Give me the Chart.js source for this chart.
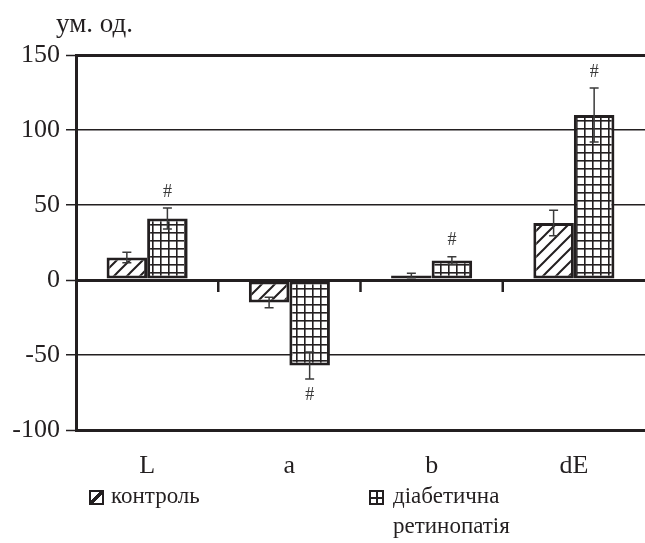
<!DOCTYPE html>
<html>
<head>
<meta charset="utf-8">
<script src="https://cdn.jsdelivr.net/npm/chart.js@4"></script>
<style>
  body { margin: 0; background: #fff; overflow: hidden; font-family: "Liberation Serif", "DejaVu Serif", serif; color: #231f20; }
  #wrap { position: relative; width: 645px; height: 543px; }
  #chart { position: absolute; left: 0; top: 0; }
  .unit { position: absolute; left: 56px; top: 10px; font-size: 27px; line-height: 1; }
  .leg { position: absolute; font-size: 23px; line-height: 30px; }
  .sw { position: absolute; width: 11px; height: 11px; border: 2.5px solid #231f20; }
  .sw.hatch { background: linear-gradient(to bottom right, transparent 38%, #231f20 38%, #231f20 62%, transparent 62%); }
  .sw.grid {
    background:
      linear-gradient(#231f20, #231f20) center / 100% 2px no-repeat,
      linear-gradient(#231f20, #231f20) center / 2px 100% no-repeat;
  }
</style>
</head>
<body>
<div id="wrap">
  <canvas id="chart" width="645" height="543"></canvas>
  <div class="unit">ум. од.</div>
  <div class="sw hatch" style="left:89px; top:490px;"></div>
  <div class="leg" style="left:111px; top:481px;">контроль</div>
  <div class="sw grid" style="left:369px; top:490px;"></div>
  <div class="leg" style="left:393px; top:481px;">діабетична<br>ретинопатія</div>
</div>
<script>
const categories = ['L', 'a', 'b', 'dE'];
const control = [15, -15, 3, 38];
const controlErr = [3.5, 3.5, 1.5, 8.5];
const retinopathy = [41, -57, 13, 110];
const retinopathyErr = [7, 9, 2.5, 18];
const retinopathyMark = ['#', '#', '#', '#'];
const yTicks = [150, 100, 50, 0, -50, -100];

const ink = '#231f20';

function makeHatch() {
    let c = document.createElement('canvas');
    c.width = 13; c.height = 13;
    let g = c.getContext('2d');
    g.fillStyle = '#fff';
    g.fillRect(0, 0, 13, 13);
    g.strokeStyle = ink;
    g.lineWidth = 2;
    g.beginPath();
    g.moveTo(-1, 14); g.lineTo(14, -1);
    g.moveTo(-7, 7); g.lineTo(7, -7);
    g.moveTo(6, 20); g.lineTo(20, 6);
    g.stroke();
    return g.createPattern(c, 'repeat');
}

function makeGrid() {
    let c = document.createElement('canvas');
    c.width = 8; c.height = 8;
    let g = c.getContext('2d');
    g.fillStyle = '#fff';
    g.fillRect(0, 0, 8, 8);
    g.fillStyle = ink;
    g.fillRect(0, 0, 8, 1.6);
    g.fillRect(0, 0, 1.6, 8);
    return g.createPattern(c, 'repeat');
}

const errorBars = {
    id: 'errorBars',
    afterDatasetsDraw(chart) {
        let ctx = chart.ctx;
        let y = chart.scales.y;
        let x = chart.scales.x;
        ctx.save();

        // small ticks under the zero line between categories
        let y0 = y.getPixelForValue(0);
        ctx.strokeStyle = ink;
        ctx.lineWidth = 2.5;
        for (let i = 1; i < categories.length; i++) {
            let xs = (x.getPixelForValue(i - 1) + x.getPixelForValue(i)) / 2;
            ctx.beginPath();
            ctx.moveTo(xs, y0);
            ctx.lineTo(xs, y0 + 12);
            ctx.stroke();
        }

        const errs = [controlErr, retinopathyErr];
        const marks = [null, retinopathyMark];
        chart.data.datasets.forEach((ds, di) => {
            let meta = chart.getDatasetMeta(di);
            meta.data.forEach((bar, i) => {
                let v = ds.data[i];
                let e = errs[di][i];
                let top = y.getPixelForValue(v + e);
                let bot = y.getPixelForValue(v - e);
                ctx.strokeStyle = '#3a3a3a';
                ctx.lineWidth = 1.5;
                ctx.beginPath();
                ctx.moveTo(bar.x, top); ctx.lineTo(bar.x, bot);
                ctx.moveTo(bar.x - 4.5, top); ctx.lineTo(bar.x + 4.5, top);
                ctx.moveTo(bar.x - 4.5, bot); ctx.lineTo(bar.x + 4.5, bot);
                ctx.stroke();
                if (marks[di] && marks[di][i]) {
                    ctx.fillStyle = '#3a3a3a';
                    ctx.font = '18px "Liberation Serif"';
                    ctx.textAlign = 'center';
                    ctx.textBaseline = 'middle';
                    let ty = v >= 0 ? top - 16 : bot + 16;
                    ctx.fillText(marks[di][i], bar.x, ty);
                }
            });
        });
        ctx.restore();
    }
};

let ctx = document.getElementById('chart').getContext('2d');
let chart = new Chart(ctx, {
    type: 'bar',
    data: {
        labels: categories,
        datasets: [
            {
                label: 'контроль',
                data: control,
                backgroundColor: makeHatch(),
                borderColor: ink,
                borderWidth: 3,
                borderSkipped: false,
            },
            {
                label: 'діабетична ретинопатія',
                data: retinopathy,
                backgroundColor: makeGrid(),
                borderColor: ink,
                borderWidth: 3,
                borderSkipped: false,
            },
        ],
    },
    options: {
        responsive: false,
        animation: false,
        layout: { padding: { top: 55, right: -3, left: 0, bottom: 0 } },
        datasets: { bar: { categoryPercentage: 0.57, barPercentage: 1 } },
        plugins: { legend: { display: false }, tooltip: { enabled: false } },
        scales: {
            x: {
                grid: { display: false },
                border: { display: true, color: ink, width: 3 },
                ticks: { color: ink, font: { family: 'Liberation Serif', size: 26 }, padding: 13 },
                afterFit: s => { s.height = 113; },
            },
            y: {
                min: -100,
                max: 150,
                afterBuildTicks: s => { s.ticks = yTicks.map(v => ({ value: v })); },
                grid: {
                    color: ink,
                    lineWidth: c => (c.tick.value === 0 || c.tick.value === 150 || c.tick.value === -100) ? 3 : 1.5,
                    tickLength: 10,
                    tickColor: ink,
                    tickWidth: 1.5,
                },
                border: { display: true, color: ink, width: 3 },
                ticks: { color: ink, font: { family: 'Liberation Serif', size: 26 }, padding: 6 },
                afterFit: s => { s.width = 76; },
            },
        },
    },
    plugins: [errorBars],
});
</script>
</body>
</html>
